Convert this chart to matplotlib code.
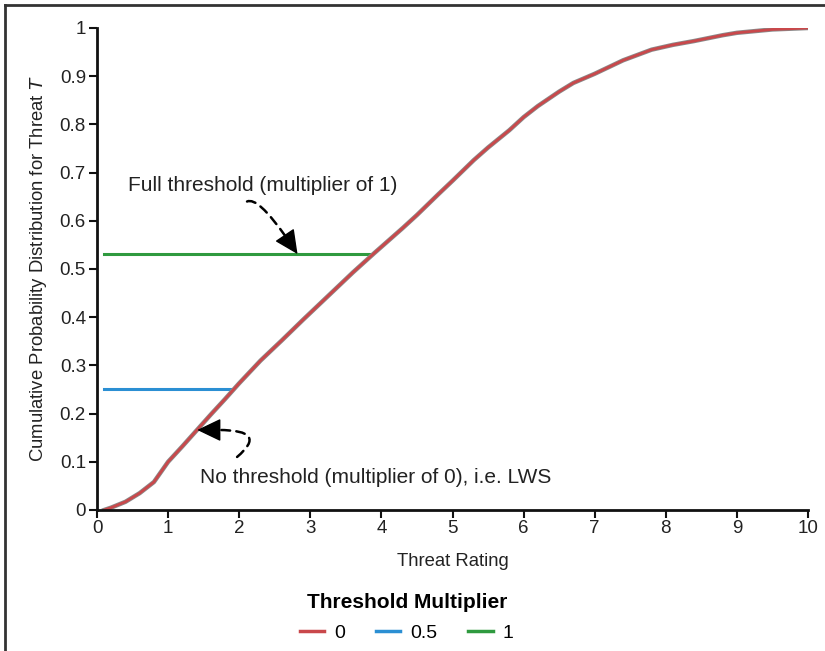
import matplotlib.pyplot as plt
import matplotlib.patheffects as pe
from matplotlib.lines import Line2D

# values
rating = [0.1, 0.2, 0.4, 0.6, 0.8, 1.0, 1.2, 1.4, 1.6, 1.8, 2.0, 2.3, 2.6,
          2.9, 3.1, 3.4, 3.6, 3.9, 4.3, 4.5, 4.8, 5.0, 5.3, 5.5, 5.8, 6.0,
          6.2, 6.5, 6.7, 7.0, 7.2, 7.4, 7.6, 7.8, 8.1, 8.4, 8.6, 8.8, 9.0,
          9.5, 10.0]
cdf_0 = [0.0, 0.005, 0.017, 0.035, 0.058, 0.10, 0.132, 0.165, 0.198, 0.23,
         0.263, 0.31, 0.352, 0.395, 0.423, 0.465, 0.493, 0.533, 0.585, 0.612,
         0.655, 0.683, 0.726, 0.752, 0.788, 0.815, 0.838, 0.868, 0.886, 0.905,
         0.919, 0.933, 0.944, 0.955, 0.965, 0.973, 0.979, 0.985, 0.99, 0.997,
         1.0]
half_x = [0.1, 1.9]
half_y = [0.25, 0.25]
full_x = [0.1, 3.87]
full_y = [0.531, 0.531]
multipliers = ['0', '0.5', '1']
colors = ['#c9484b', '#2b8fd3', '#2f9a3f']

plt.rcParams['font.family'] = ['Liberation Sans', 'DejaVu Sans']

fig = plt.figure(figsize=(8.25, 6.51), dpi=100)
ax = fig.add_axes([0.1176, 0.2166, 0.8618, 0.7404])

ax.plot(half_x, half_y, color=colors[1], lw=2.2)
ax.plot(full_x, full_y, color=colors[2], lw=2.2)
ax.plot(rating, cdf_0, color=colors[0], lw=2,
        path_effects=[pe.Stroke(linewidth=3.2, foreground='#8a8a8a'), pe.Normal()])

ax.set_xlim(0, 10)
ax.set_ylim(0, 1)
ax.set_xticks(range(0, 11))
ax.set_yticks([0, 0.1, 0.2, 0.3, 0.4, 0.5, 0.6, 0.7, 0.8, 0.9, 1])
ax.set_yticklabels(['0', '0.1', '0.2', '0.3', '0.4', '0.5', '0.6', '0.7', '0.8', '0.9', '1'])
for s in ['top', 'right']:
    ax.spines[s].set_visible(False)
for s in ['left', 'bottom']:
    ax.spines[s].set_linewidth(2)
    ax.spines[s].set_color('#111111')
ax.tick_params(direction='out', length=6, width=1.5, labelsize=13.5, colors='#111111',
               labelcolor='#222222')
ax.tick_params(axis='x', pad=1)
ax.tick_params(axis='y', pad=2)
ax.set_xlabel('Threat Rating', fontsize=13.3, color='#222222', labelpad=12)
ax.set_ylabel('Cumulative Probability Distribution for Threat $T$', fontsize=13.3,
              color='#222222', labelpad=8)


def dashed_arrow(start, base, tip, conn):
    # dashed curved shaft, then a solid filled head
    ax.annotate('', xy=base, xytext=start,
                arrowprops=dict(arrowstyle='-', linestyle=(0, (3.5, 2.5)),
                                color='black', lw=1.8, connectionstyle=conn,
                                shrinkA=0, shrinkB=0))
    ax.annotate('', xy=tip, xytext=base,
                arrowprops=dict(arrowstyle='-|>,head_length=0.75,head_width=0.36',
                                mutation_scale=20, color='black', lw=1,
                                shrinkA=0, shrinkB=0))


ax.text(0.44, 0.674, 'Full threshold (multiplier of 1)', fontsize=15,
        color='#222222', va='center', ha='left')
dashed_arrow((2.11, 0.640), (2.655, 0.567), (2.82, 0.531),
             'angle3,angleA=25,angleB=125')

ax.text(1.45, 0.068, 'No threshold (multiplier of 0), i.e. LWS', fontsize=15,
        color='#222222', va='center', ha='left')
dashed_arrow((1.97, 0.110), (1.71, 0.166), (1.41, 0.166),
             'angle3,angleA=40,angleB=0')

# legend below the plot
handles = [Line2D([0], [0], color=c, lw=2.5) for c in colors]
leg = fig.legend(handles, multipliers, loc='center', bbox_to_anchor=(0.493, 0.052),
                 ncol=3, frameon=False, fontsize=14, title='Threshold Multiplier',
                 title_fontproperties={'weight': 'bold', 'size': 15},
                 handlelength=1.25, handletextpad=0.5, columnspacing=1.6,
                 labelspacing=0.2)
leg._legend_box.sep = 9

# screenshot frame
fig.add_artist(Line2D([0.006, 0.006], [0, 0.992], color='#333333', lw=2))
fig.add_artist(Line2D([0.006, 1], [0.992, 0.992], color='#333333', lw=2))

fig.savefig('out.png', dpi=100)
